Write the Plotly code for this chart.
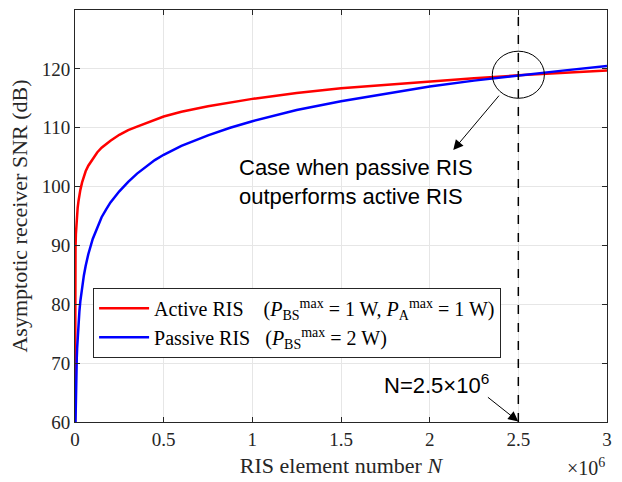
import plotly.graph_objects as go

# ---- data ----
N_active = [3.2, 10, 30, 100, 300, 1e3, 3e3, 5e3, 1e4, 1.5e4, 2e4, 2.5e4, 3e4, 4e4, 5e4, 6e4,
            7.5e4, 8e4, 1e5, 1.25e5, 1.5e5, 1.75e5, 2e5, 2.5e5, 3e5, 3.5e5, 4e5, 4.5e5, 5e5,
            6e5, 7.5e5, 1e6, 1.25e6, 1.5e6, 1.75e6, 2e6, 2.25e6, 2.5e6, 2.75e6, 3e6]
snr_active = [60.0, 64.9, 69.7, 74.9, 79.7, 84.9, 89.7, 91.9, 94.6, 96.4, 97.6, 98.6, 99.4,
              100.7, 101.7, 102.6, 103.55, 103.8, 104.8, 105.8, 106.6, 107.2, 107.8, 108.8,
              109.6, 110.2, 110.8, 111.35, 111.9, 112.7, 113.65, 114.9, 115.9, 116.7, 117.3,
              117.9, 118.4, 118.9, 119.3, 119.7]

N_passive = [2840, 4000, 6000, 8000, 1e4, 1.2e4, 1.5e4, 2e4, 2.5e4, 3e4, 3.5e4, 4e4, 5e4, 6e4,
             7.5e4, 1e5, 1.25e5, 1.5e5, 1.75e5, 2e5, 2.5e5, 3e5, 3.5e5, 4e5, 4.5e5, 5e5, 6e5,
             7.5e5, 8.75e5, 1e6, 1.25e6, 1.5e6, 1.75e6, 2e6, 2.25e6, 2.5e6, 2.75e6, 3e6]
snr_passive = [60.0, 63.0, 66.5, 69.0, 70.9, 72.5, 74.5, 77.0, 78.9, 80.5, 81.8, 83.0, 84.9,
               86.5, 88.5, 91.1, 93.1, 94.8, 96.1, 97.3, 99.2, 100.8, 102.2, 103.4, 104.5,
               105.4, 106.9, 108.7, 110.0, 111.1, 113.0, 114.5, 115.8, 117.0, 118.0, 118.9,
               119.7, 120.5]

x_tickvals = [0, 0.5e6, 1e6, 1.5e6, 2e6, 2.5e6, 3e6]
x_ticktext = ["0", "0.5", "1", "1.5", "2", "2.5", "3"]
y_tickvals = [60, 70, 80, 90, 100, 110, 120, 130]

N_mark = 2.5e6
snr_cross = 119.0

serif = "Liberation Serif, Times New Roman, serif"
sans = "Liberation Sans, Arial, sans-serif"

fig = go.Figure()
fig.add_trace(go.Scatter(
    x=N_active, y=snr_active, mode="lines", line=dict(color="#ff0000", width=2.5),
    name="Active RIS &nbsp;&nbsp;&nbsp;(<i>P</i><sub>BS</sub><sup>max</sup> = 1 W, <i>P</i><sub>A</sub><sup>max</sup> = 1 W)"))
fig.add_trace(go.Scatter(
    x=N_passive, y=snr_passive, mode="lines", line=dict(color="#0000ff", width=2.5),
    name="Passive RIS &nbsp;&nbsp;(<i>P</i><sub>BS</sub><sup>max</sup> = 2 W)"))

# dashed vertical line at N = 2.5e6
fig.add_shape(type="line", x0=N_mark, x1=N_mark, y0=60, y1=130, xref="x", yref="y",
              line=dict(color="black", width=1.5, dash="dash"))
# ellipse around the crossing
fig.add_shape(type="circle", xref="x", yref="y",
              x0=N_mark - 0.147e6, x1=N_mark + 0.147e6, y0=snr_cross - 4.0, y1=snr_cross + 4.0,
              line=dict(color="black", width=1))

# arrows
fig.add_annotation(x=2.133e6, y=106.2, ax=2.398e6, ay=115.7, xref="x", yref="y",
                   axref="x", ayref="y", text="", showarrow=True, arrowhead=2,
                   arrowsize=2, arrowwidth=1, arrowcolor="black")
fig.add_annotation(x=N_mark, y=60.1, ax=2.32e6, ay=64.4, xref="x", yref="y",
                   axref="x", ayref="y", text="", showarrow=True, arrowhead=2,
                   arrowsize=2, arrowwidth=1, arrowcolor="black")

fig.add_annotation(x=0.914e6, y=100.8, xref="x", yref="y", xanchor="left", yanchor="middle",
                   text="Case when passive RIS<br>outperforms active RIS", showarrow=False,
                   align="left", font=dict(family=sans, size=22, color="black"))
fig.add_annotation(x=1.73e6, y=66.5, xref="x", yref="y", xanchor="left", yanchor="middle",
                   text="N=2.5×10<sup>6</sup>", showarrow=False,
                   font=dict(family=sans, size=22, color="black"))
# x10^6 exponent label
fig.add_annotation(x=1.0, y=-0.11, xref="paper", yref="paper", xanchor="right", yanchor="middle",
                   text="×10<sup>6</sup>", showarrow=False,
                   font=dict(family=serif, size=20, color="#262626"))

axis_common = dict(showline=True, linecolor="#262626", linewidth=1, mirror="ticks",
                   ticks="inside", ticklen=5, tickcolor="#262626",
                   showgrid=True, gridcolor="#e6e6e6", gridwidth=1, zeroline=False,
                   tickfont=dict(family=serif, size=19, color="#262626"))

fig.update_xaxes(range=[0, 3e6], tickvals=x_tickvals, ticktext=x_ticktext,
                 title=dict(text="RIS element number <i>N</i>", standoff=8,
                            font=dict(family=serif, size=22, color="#262626")),
                 **axis_common)
fig.update_yaxes(range=[60, 130], tickvals=y_tickvals,
                 title=dict(text="Asymptotic receiver SNR (dB)", standoff=8,
                            font=dict(family=serif, size=22, color="#262626")),
                 **axis_common)

fig.update_layout(
    width=622, height=482,
    margin=dict(l=75, r=15, t=9, b=56),
    plot_bgcolor="white", paper_bgcolor="white",
    showlegend=True,
    legend=dict(x=0.034, y=0.326, xanchor="left", yanchor="top",
                bgcolor="white", bordercolor="#262626", borderwidth=1,
                font=dict(family=serif, size=20, color="black"),
                tracegroupgap=0, itemwidth=50),
)

fig.write_html("out.html")
